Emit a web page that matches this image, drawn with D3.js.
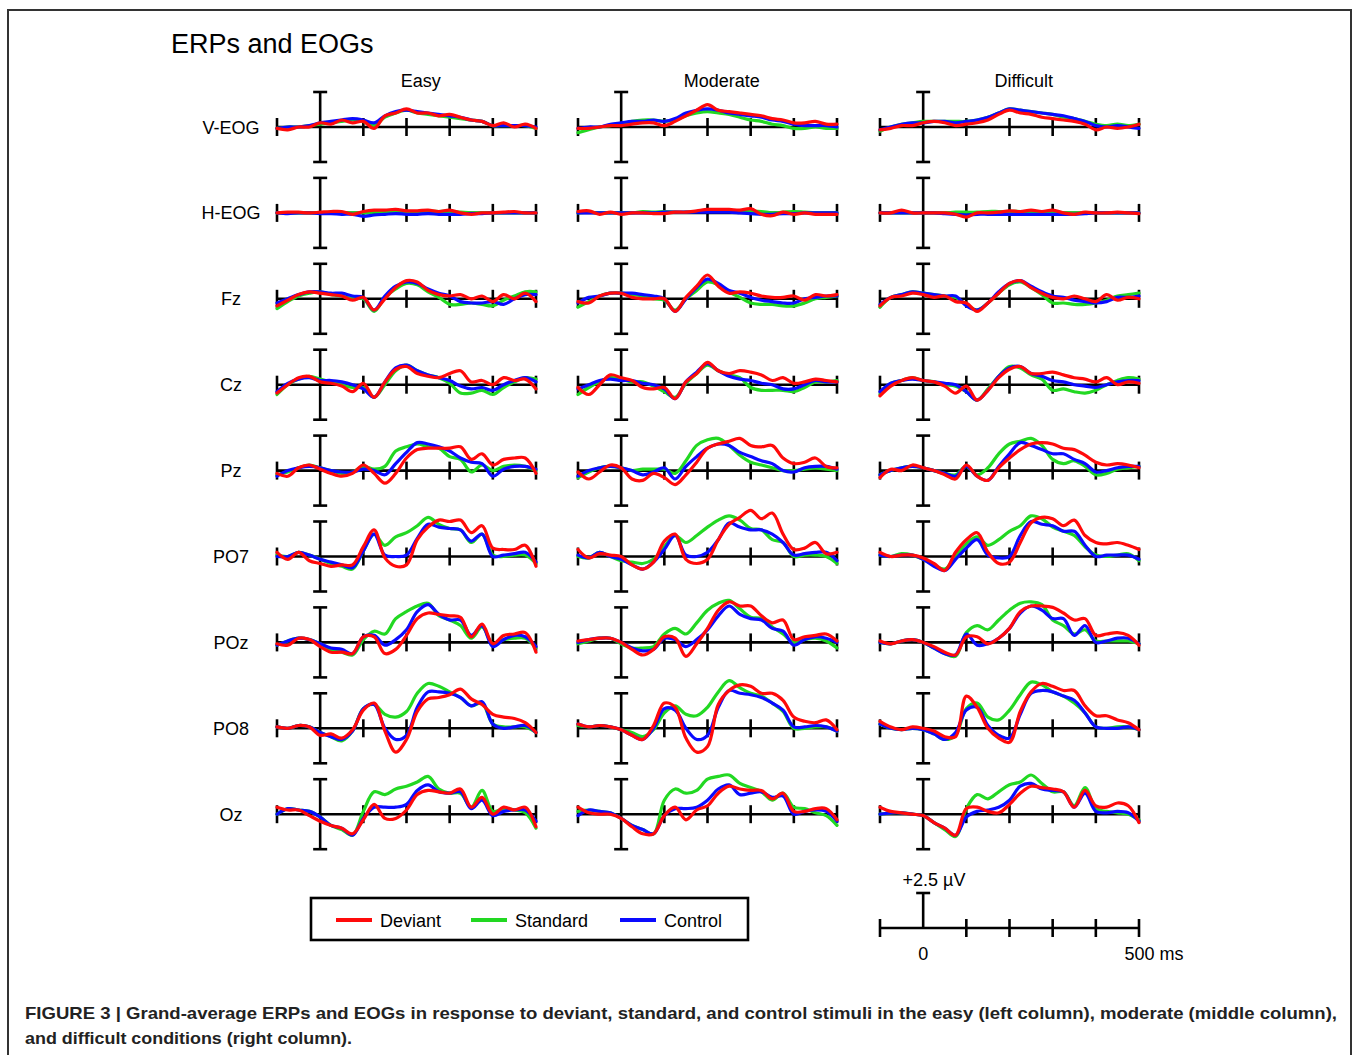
<!DOCTYPE html>
<html>
<head lang="en">
    <meta charset="UTF-8">
    <title>ERPs and EOGs</title>
    <style>
        body { margin: 0; background: #fff; }
        svg { font-family: "Liberation Sans", Arial, sans-serif; }
        .curve { fill: none; stroke-width: 3.2; stroke-linejoin: round; stroke-linecap: round; }
        .ax { stroke: #000; stroke-width: 2.6; fill: none; }
    </style>
</head>
<body>
<svg id="chart" width="1355" height="1055"></svg>
<script src="https://cdn.jsdelivr.net/npm/d3@7/dist/d3.min.js"></script>
<script>

    // sample times (ms) of every waveform
    let times = [-100,-75,-50,-25,0,25,50,75,100,125,150,175,200,225,250,275,300,325,350,375,400,425,450,475,500];
    let timeTicks = [-100,0,100,200,300,400,500];
    let channels = ["V-EOG","H-EOG","Fz","Cz","Pz","PO7","POz","PO8","Oz"];
    let conditions = ["Easy","Moderate","Difficult"];
    let seriesNames = ["Deviant","Standard","Control"];
    let seriesColors = ["#ff0a0a","#22d822","#0a0aff"];

    // µV, one row per channel (same order as channels)
    let deviantEasy = [
        [-0.1,-0.2,0.0,0.0,0.3,0.2,0.5,0.3,0.4,-0.1,0.8,1.0,1.3,1.0,1.0,0.8,0.9,0.7,0.5,0.4,0.1,0.3,0.0,0.2,-0.1],
        [0,0.05,0.05,0,0.05,0.1,0.1,-0.1,0.1,0.2,0.2,0.25,0.15,0.15,0.2,0.1,0.2,0,-0.1,0,0,0.05,0.1,0,0],
        [-0.5,-0.1,0.3,0.5,0.4,0.3,0.2,-0.1,0.1,-0.8,0.0,0.8,1.3,1.2,0.6,0.3,0.2,0.3,0.0,0.2,-0.2,0.3,0.0,0.4,-0.2],
        [-0.6,0.0,0.5,0.6,0.2,0.1,-0.1,-0.5,0.1,-0.9,0.2,1.1,1.3,0.8,0.6,0.5,0.8,1.0,0.2,0.3,0.0,0.5,0.3,0.4,-0.3],
        [-0.2,-0.4,0.2,0.4,0.1,-0.2,-0.4,-0.2,0.4,-0.2,-0.9,-0.2,0.9,1.5,1.6,1.6,1.6,1.7,0.8,1.2,0.4,0.8,0.9,0.9,-0.2],
        [0.3,-0.2,0.3,-0.3,-0.5,-0.7,-0.6,-0.6,0.7,1.9,-0.1,-0.7,-0.6,1.2,2.1,2.6,2.5,2.6,1.7,2.2,0.6,0.5,0.5,0.8,-0.7],
        [-0.1,-0.2,0.3,0.2,-0.3,-0.7,-0.7,-0.8,0.4,0.4,-0.8,-0.5,0.5,1.7,2.1,2.0,1.9,1.8,0.4,1.3,-0.1,0.5,0.6,0.7,-0.7],
        [0.1,0.0,0.2,0.1,-0.5,-0.4,-0.7,-0.1,1.3,1.8,-0.2,-1.7,-0.8,1.2,2.1,2.2,2.4,2.8,2.1,1.7,1.0,0.8,0.7,0.4,-0.3],
        [0.5,0.3,0.3,-0.1,-0.5,-0.8,-1.0,-1.4,-0.4,0.7,-0.3,-0.3,0.3,1.4,1.7,1.6,1.5,1.8,0.5,1.2,0.0,0.5,0.3,0.5,-0.9]
    ];
    let standardEasy = [
        [-0.1,0.0,0.0,0.1,0.2,0.3,0.4,0.5,0.4,0.1,0.7,1.0,1.2,1.0,0.9,0.8,0.7,0.6,0.5,0.4,0.1,0.1,0.1,0.1,-0.1],
        [0,0,0,0,0,0.05,0,0,0,0.05,0.05,0.05,0.05,0.05,0.1,0.1,0.1,0.05,0,0,0,0,0,0,0],
        [-0.7,-0.2,0.2,0.4,0.5,0.3,0.2,0.0,0.0,-0.9,0.1,0.7,1.1,1.0,0.5,0.1,-0.4,-0.4,-0.3,-0.4,-0.5,-0.1,0.2,0.5,0.5],
        [-0.7,0.0,0.4,0.6,0.4,0.2,0.0,-0.2,-0.2,-0.9,0.0,1.0,1.4,1.0,0.7,0.5,0.1,-0.6,-0.6,-0.4,-0.7,-0.2,0.2,0.5,0.4],
        [-0.3,-0.1,0.2,0.4,0.2,0.0,-0.2,-0.1,0.3,0.1,0.3,1.4,1.7,1.9,1.7,1.6,1.0,0.8,-0.1,0.4,0.0,0.3,0.4,0.3,0.0],
        [0.1,0.0,0.3,0.1,-0.2,-0.5,-0.7,-0.9,0.4,1.6,0.8,1.4,1.7,2.2,2.8,2.3,2.0,1.9,1.0,1.6,0.1,0.0,0.1,0.1,-0.5],
        [-0.2,0.1,0.3,0.2,-0.1,-0.5,-0.7,-0.9,0.2,0.8,0.6,1.7,2.2,2.6,2.8,1.9,1.6,1.2,0.3,1.1,-0.1,0.2,0.3,0.3,-0.4],
        [0.1,0.0,0.2,0.1,-0.3,-0.6,-0.9,-0.2,1.4,1.7,1.0,0.8,1.2,2.5,3.2,3.0,2.6,2.2,1.6,1.8,0.3,0.1,0.1,0.1,-0.3],
        [0.0,0.4,0.3,0.2,-0.2,-0.8,-1.1,-1.5,0.2,1.6,1.4,1.8,2.0,2.3,2.7,1.8,1.5,1.5,0.5,1.7,0.2,0.4,0.3,0.1,-1.0]
    ];
    let controlEasy = [
        [-0.1,0.0,0.0,0.1,0.3,0.4,0.5,0.6,0.5,0.3,0.8,1.1,1.2,1.1,1.0,0.9,0.8,0.7,0.5,0.4,0.1,0.1,0.1,0.1,0.0],
        [0,-0.05,0,0,-0.05,-0.05,-0.1,-0.1,-0.25,-0.15,-0.1,-0.05,-0.1,-0.1,-0.05,-0.1,-0.1,-0.1,-0.05,-0.05,0,0,0,0,0],
        [-0.3,0.0,0.3,0.5,0.5,0.4,0.4,0.2,0.1,-0.8,0.2,0.9,1.2,1.1,0.7,0.4,0.2,-0.2,-0.3,-0.3,-0.2,-0.4,0.0,0.3,0.3],
        [-0.5,0.1,0.4,0.5,0.3,0.3,0.2,0.0,-0.3,-0.9,0.2,1.2,1.4,1.0,0.7,0.5,0.3,-0.1,-0.3,-0.2,-0.4,0.0,0.3,0.5,0.2],
        [-0.4,0.0,0.2,0.3,0.2,0.0,-0.1,-0.1,0.1,0.0,-0.3,0.5,1.3,2.0,1.9,1.7,1.4,0.9,0.6,0.5,-0.4,0.1,0.3,0.3,0.1],
        [0.0,0.0,0.3,0.1,-0.2,-0.4,-0.6,-0.8,0.4,1.6,0.1,0.0,0.1,1.3,2.3,2.1,2.0,1.9,1.1,1.6,0.0,0.1,0.2,0.3,-0.4],
        [-0.2,0.1,0.3,0.2,-0.1,-0.4,-0.5,-0.8,0.4,0.5,-0.2,0.2,0.9,2.2,2.7,2.0,1.6,1.6,0.5,1.2,-0.3,0.2,0.5,0.4,-0.3],
        [0.1,0.0,0.2,0.1,-0.3,-0.6,-0.8,-0.2,1.4,1.7,0.0,-0.8,-0.5,1.5,2.6,2.6,2.5,2.2,1.6,1.9,0.3,0.0,0.1,0.2,-0.3],
        [0.0,0.4,0.3,0.2,-0.2,-0.8,-1.0,-1.5,-0.3,0.5,0.5,0.5,0.7,1.7,2.1,1.6,1.5,1.6,0.4,1.0,-0.1,0.2,0.3,0.3,-0.5]
    ];

    let deviantModerate = [
        [-0.1,-0.1,0.0,0.1,0.1,0.2,0.3,0.3,0.1,0.4,0.8,1.2,1.6,1.2,1.1,1.0,0.9,0.8,0.6,0.5,0.3,0.3,0.4,0.2,0.2],
        [0.1,0.15,-0.1,0.05,-0.1,0,0,-0.05,-0.05,0.05,0.05,0.15,0.25,0.25,0.25,0.2,0.3,-0.1,-0.2,0.05,-0.1,0,-0.1,-0.1,-0.1],
        [-0.2,-0.3,0.2,0.4,0.4,0.1,0.0,0.0,0.0,-0.9,0.1,0.9,1.7,0.9,0.4,0.5,0.4,0.2,0.1,0.1,0.2,-0.1,0.3,0.2,0.3],
        [-0.2,-0.7,0.0,0.7,0.5,0.3,-0.2,-0.3,-0.2,-1.0,0.2,0.8,1.6,1.0,0.8,1.0,0.9,0.7,0.3,0.5,0.1,0.2,0.4,0.3,0.2],
        [-0.1,-0.6,-0.1,0.4,0.2,-0.6,-0.7,-0.2,-0.5,-1.0,-0.3,0.6,1.6,1.9,2.1,2.3,1.8,1.7,1.8,0.9,0.5,0.6,0.9,0.3,0.2],
        [0.5,-0.1,0.2,0.1,0.0,-0.6,-0.9,-0.4,1.1,1.6,-0.2,-0.5,-0.2,1.2,2.3,2.8,3.3,2.7,3.1,1.6,0.5,0.6,1.0,0.2,0.3],
        [0.1,0.2,0.3,0.3,0.0,-0.5,-0.9,-0.5,0.4,0.3,-1.0,-0.1,1.0,2.3,2.9,2.6,2.6,1.9,1.4,1.6,0.2,0.4,0.5,0.6,0.1],
        [0.3,0.1,0.2,0.1,-0.1,-0.5,-0.8,0.2,1.8,1.5,-0.7,-1.7,-1.3,1.7,2.7,3.1,3.0,2.5,2.5,2.0,0.8,0.5,0.4,0.6,-0.1],
        [0.5,0.1,0.0,0.0,-0.3,-0.9,-1.4,-1.4,-0.1,0.5,-0.4,0.3,0.6,1.5,2.0,1.8,1.7,1.7,1.1,1.5,0.2,0.2,0.4,0.4,-0.4]
    ];
    let standardModerate = [
        [-0.4,-0.2,0.0,0.1,0.2,0.4,0.5,0.5,0.4,0.5,0.8,1.0,1.1,1.0,0.9,0.7,0.5,0.4,0.2,0.1,-0.1,-0.1,0.0,-0.1,-0.1],
        [0,0.05,0,0,0,0,0.1,0.05,0.1,0.05,0.05,0.1,0.15,0.15,0.1,0.1,0.1,0.1,0,0.05,0.1,0.05,0,0,0],
        [-0.6,-0.2,0.2,0.4,0.4,0.3,0.2,0.0,-0.1,-0.8,0.0,0.6,1.2,1.0,0.5,0.1,-0.3,-0.4,-0.4,-0.5,-0.5,-0.3,0.0,0.1,0.2],
        [-0.7,-0.2,0.2,0.5,0.4,0.2,0.2,-0.1,-0.5,-0.9,0.1,0.8,1.4,1.0,0.7,0.5,-0.2,-0.4,-0.4,-0.4,-0.5,-0.2,0.2,0.2,0.3],
        [-0.5,-0.1,0.2,0.3,0.2,0.0,0.1,0.1,0.1,-0.2,0.7,1.8,2.2,2.3,1.8,1.1,0.6,0.4,0.2,0.0,0.0,0.1,0.2,0.1,0.0],
        [0.0,-0.1,0.3,0.0,-0.3,-0.4,-0.5,-0.2,0.7,1.5,1.0,1.5,2.1,2.6,2.9,2.6,2.0,1.9,1.2,1.0,0.0,0.1,0.1,0.0,-0.5],
        [-0.1,0.1,0.3,0.3,-0.1,-0.4,-0.4,-0.3,0.6,1.0,0.6,1.4,2.3,2.8,3.0,2.4,1.8,1.7,1.1,0.6,0.0,0.2,0.3,0.1,-0.4],
        [0.2,0.1,0.2,0.1,-0.1,-0.3,-0.6,-0.1,1.1,1.6,1.0,0.9,1.5,2.6,3.4,2.9,2.5,2.3,1.8,1.2,0.0,0.0,0.1,0.1,-0.2],
        [0.2,0.3,0.2,0.1,-0.3,-0.8,-1.1,-1.4,1.0,1.8,1.5,1.7,2.5,2.7,2.8,2.2,1.9,1.6,1.0,1.5,0.5,0.4,0.1,-0.1,-0.8]
    ];
    let controlModerate = [
        [-0.1,0.0,0.0,0.2,0.3,0.4,0.4,0.5,0.4,0.6,1.0,1.2,1.3,1.2,1.0,0.9,0.8,0.7,0.5,0.4,0.2,0.1,0.1,0.1,0.0],
        [0,0,0,0,0,0,0,0,0.05,0.05,0.05,0.05,0.05,0.05,0.05,0,-0.05,-0.1,-0.1,-0.05,-0.05,0,0,0,0],
        [-0.3,0.1,0.2,0.4,0.4,0.4,0.3,0.2,0.0,-0.9,0.0,0.8,1.4,1.1,0.6,0.4,0.1,-0.1,-0.2,-0.3,-0.3,0.0,0.1,0.2,0.2],
        [-0.3,0.0,0.3,0.4,0.3,0.3,0.1,0.0,-0.3,-1.0,0.2,0.9,1.5,1.0,0.6,0.4,0.3,0.1,0.0,-0.3,-0.3,0.0,0.3,0.2,0.2],
        [-0.4,0.0,0.2,0.3,0.2,0.0,-0.3,-0.1,0.2,-0.6,0.3,1.0,1.6,1.9,1.8,1.3,1.0,0.7,0.5,0.0,-0.1,0.2,0.3,0.3,0.1],
        [0.1,-0.1,0.3,0.0,-0.2,-0.6,-0.9,-0.4,0.5,1.5,0.1,0.0,0.3,1.2,2.4,2.1,1.9,1.9,1.6,1.0,0.1,0.2,0.3,0.3,-0.3],
        [0.0,0.2,0.3,0.3,0.0,-0.4,-0.6,-0.5,0.3,0.2,-0.3,0.2,0.9,1.9,2.6,2.0,1.7,1.6,1.0,0.8,-0.2,0.2,0.4,0.3,0.0],
        [0.3,0.1,0.2,0.1,-0.1,-0.5,-0.8,0.0,1.4,1.3,0.0,-0.8,-0.5,1.5,2.7,2.5,2.4,2.2,1.8,1.3,0.1,0.1,0.2,0.1,-0.2],
        [-0.1,0.3,0.2,0.1,-0.3,-0.8,-1.1,-1.4,-0.1,0.4,0.4,0.5,1.0,1.8,2.1,1.4,1.5,1.6,1.2,1.3,0.0,0.2,0.3,0.2,-0.5]
    ];

    let deviantDifficult = [
        [-0.2,-0.1,0.1,0.1,0.3,0.4,0.3,0.1,0.2,0.3,0.5,0.9,1.2,1.0,0.9,0.7,0.6,0.5,0.4,0.2,-0.2,0.0,-0.1,0.0,0.2],
        [0,0,0.2,0,0,0,0,-0.1,-0.3,0,0,0.05,0.15,0.1,0.2,0.1,0.2,0,-0.1,0.05,0,0,0.05,0,-0.05],
        [-0.5,0.1,0.2,0.4,0.3,0.1,0.2,-0.2,-0.3,-0.9,-0.3,0.4,1.1,1.3,0.8,0.4,0.1,0.0,0.2,0.0,-0.2,0.3,-0.1,0.1,0.0],
        [-0.8,-0.1,0.3,0.5,0.3,0.2,-0.1,-0.6,-0.1,-1.1,-0.4,0.5,1.1,1.3,0.8,0.8,0.9,0.7,0.5,0.4,0.2,0.5,0.0,0.2,0.1],
        [-0.5,0.1,0.0,0.4,0.2,0.0,-0.3,-0.6,0.4,-0.4,-0.7,0.2,0.9,1.5,1.9,2.0,1.9,1.6,1.5,1.1,0.6,0.4,0.5,0.4,0.2],
        [0.3,0.0,0.1,0.1,-0.1,-0.5,-1.0,0.3,1.2,1.7,0.3,-0.5,-0.4,1.0,2.4,2.8,2.7,2.2,2.6,1.5,1.0,0.9,1.0,0.8,0.5],
        [0.1,-0.1,0.1,0.2,0.0,-0.3,-0.7,-0.9,0.4,0.4,-0.1,0.3,1.0,2.2,2.6,2.6,2.5,2.1,1.6,1.7,0.5,0.6,0.7,0.5,-0.2],
        [0.5,0.1,-0.1,0.1,0.0,-0.2,-0.6,-0.6,2.3,1.5,0.0,-0.7,-1.0,1.2,2.6,3.2,3.0,2.7,2.7,1.6,0.9,0.9,0.6,0.4,-0.1],
        [0.5,0.2,0.1,0.0,-0.1,-0.6,-1.0,-1.5,0.4,0.5,0.2,0.1,0.7,1.5,2.0,1.9,1.8,1.6,0.5,1.7,0.6,0.5,0.8,0.6,-0.6]
    ];
    let standardDifficult = [
        [-0.3,0.0,0.2,0.3,0.4,0.4,0.4,0.4,0.4,0.5,0.7,1.0,1.3,1.2,1.1,1.0,0.9,0.7,0.6,0.4,0.2,0.1,0.2,0.1,0.2],
        [0,0,0,0,0,0,0,0.05,0.05,0.05,0.1,0.1,0.1,0.1,0.05,0.05,0.05,0,0,0,0,0,0,0,0],
        [-0.6,0.1,0.3,0.5,0.4,0.3,0.2,0.1,-0.4,-0.8,-0.3,0.4,1.0,1.2,0.8,0.3,-0.3,-0.3,-0.4,-0.4,-0.3,-0.1,0.2,0.3,0.4],
        [-0.7,0.1,0.3,0.5,0.3,0.2,0.0,-0.1,-0.5,-1.1,-0.3,0.6,1.3,1.2,0.7,0.4,-0.4,-0.3,-0.5,-0.6,-0.4,0.0,0.3,0.5,0.4],
        [-0.3,0.0,0.2,0.3,0.2,0.0,-0.2,-0.3,0.3,-0.3,0.2,1.2,1.9,2.1,2.3,1.8,0.8,0.5,0.7,0.3,-0.3,-0.2,0.1,0.2,0.3],
        [0.1,0.0,0.2,0.1,-0.2,-0.6,-0.9,0.0,0.9,1.4,0.8,1.2,1.8,2.2,2.9,2.7,2.1,1.8,1.5,0.7,0.1,0.0,0.1,0.2,-0.3],
        [0.0,-0.1,0.1,0.2,0.0,-0.4,-0.8,-1.0,0.7,1.2,0.9,1.6,2.3,2.8,2.9,2.7,1.6,1.2,0.6,0.9,0.1,0.1,0.1,0.1,-0.1],
        [0.3,0.0,-0.1,0.0,-0.1,-0.4,-0.8,-0.5,1.4,1.8,0.8,0.6,1.3,2.4,3.3,3.1,2.6,2.3,1.8,1.1,0.1,0.0,0.1,0.1,-0.1],
        [0.0,0.1,0.1,0.0,-0.1,-0.6,-1.1,-1.6,0.4,1.4,1.1,1.6,2.1,2.3,2.8,2.2,1.6,1.6,0.6,1.9,0.4,0.2,0.1,0.0,-0.4]
    ];
    let controlDifficult = [
        [-0.2,0.0,0.2,0.3,0.3,0.4,0.4,0.3,0.4,0.5,0.7,1.0,1.3,1.2,1.1,1.0,0.9,0.8,0.6,0.4,0.1,0.0,0.1,0.0,-0.1],
        [0,0,0,0,0,0,-0.05,-0.1,-0.15,-0.1,-0.1,-0.1,-0.1,-0.1,-0.1,-0.1,-0.1,-0.1,-0.1,-0.05,0,0,0,0,0],
        [-0.4,0.1,0.3,0.5,0.4,0.3,0.2,0.2,-0.5,-0.8,-0.3,0.5,1.1,1.3,0.9,0.5,0.2,0.1,-0.1,-0.2,-0.3,-0.2,0.1,0.1,0.2],
        [-0.5,0.1,0.3,0.4,0.3,0.2,0.1,0.0,-0.5,-1.1,-0.4,0.6,1.2,1.3,0.8,0.6,0.3,0.2,0.0,-0.1,-0.2,0.0,0.2,0.3,0.3],
        [-0.3,0.0,0.2,0.3,0.2,0.0,-0.2,-0.4,0.3,-0.4,-0.7,0.3,1.2,2.0,1.8,1.5,1.2,1.2,0.8,0.5,-0.1,0.0,0.2,0.3,0.3],
        [0.1,0.0,0.1,0.1,-0.2,-0.7,-1.0,-0.2,0.6,1.2,0.1,-0.1,0.0,1.5,2.5,2.3,2.2,1.8,1.8,0.8,0.0,0.1,0.1,0.1,-0.2],
        [0.0,-0.1,0.1,0.2,0.0,-0.4,-0.8,-0.9,0.6,-0.2,-0.1,0.3,1.0,2.1,2.6,2.3,1.7,1.7,0.5,1.2,0.0,0.1,0.3,0.3,-0.1],
        [0.3,0.0,-0.1,0.0,-0.1,-0.4,-0.8,-0.3,1.3,1.5,0.2,-0.5,-0.7,1.0,2.5,2.7,2.6,2.3,2.0,1.1,0.1,0.0,0.0,0.1,-0.1],
        [0.0,0.1,0.1,0.0,-0.1,-0.6,-1.0,-1.5,-0.2,0.2,0.3,0.5,1.0,2.0,2.2,1.8,1.7,1.6,0.5,1.5,0.2,0.1,0.2,0.1,-0.5]
    ];

    // [condition][series]
    let panels = [
        [deviantEasy, standardEasy, controlEasy],
        [deviantModerate, standardModerate, controlModerate],
        [deviantDifficult, standardDifficult, controlDifficult]
    ];

    let svg = d3.select('#chart');
    let colLeft = [277, 578, 880];
    let panelW = 259;
    let rowBase0 = 127, rowStep = 85.9, halfH = 35;
    let drawOrder = [1, 2, 0];   // standard, control, deviant on top

    // frame
    svg.append('path')
        .attr('d', 'M8,1060V10H1351V1060')
        .attr('fill', 'none')
        .attr('stroke', '#333')
        .attr('stroke-width', 2);

    svg.append('text')
        .attr('x', 171).attr('y', 53)
        .attr('font-size', 27)
        .text('ERPs and EOGs');

    conditions.forEach((cond, c) => {
        let x = d3.scaleLinear().domain([-100, 500]).range([colLeft[c], colLeft[c] + panelW]);

        svg.append('text')
            .attr('x', x(233)).attr('y', 87)
            .attr('text-anchor', 'middle')
            .attr('font-size', 18)
            .text(cond);

        channels.forEach((ch, r) => {
            let base = rowBase0 + rowStep * r;
            let y = d3.scaleLinear().domain([-2.5, 2.5]).range([base + halfH, base - halfH]);
            let g = svg.append('g');

            if (c === 0) {
                svg.append('text')
                    .attr('x', 231).attr('y', base + 6.5)
                    .attr('text-anchor', 'middle')
                    .attr('font-size', 18)
                    .text(ch);
            }

            // time axis with ticks on both sides
            g.append('line').attr('class', 'ax')
                .attr('x1', x(-100)).attr('x2', x(500))
                .attr('y1', y(0)).attr('y2', y(0));
            g.selectAll('.tk').data(timeTicks.filter(t => t !== 0)).enter()
                .append('line').attr('class', 'ax')
                .attr('x1', d => x(d)).attr('x2', d => x(d))
                .attr('y1', y(0) - 9).attr('y2', y(0) + 9);

            // amplitude axis at 0 ms
            g.append('line').attr('class', 'ax')
                .attr('x1', x(0)).attr('x2', x(0))
                .attr('y1', y(-2.5)).attr('y2', y(2.5));
            [-2.5, 2.5].forEach(v => {
                g.append('line').attr('class', 'ax')
                    .attr('x1', x(0) - 7).attr('x2', x(0) + 7)
                    .attr('y1', y(v)).attr('y2', y(v));
            });

            let line = d3.line()
                .x((d, i) => x(times[i]))
                .y(d => y(d))
                .curve(d3.curveCatmullRom.alpha(0.5));

            drawOrder.forEach(s => {
                g.append('path')
                    .datum(panels[c][s][r])
                    .attr('class', 'curve')
                    .attr('stroke', seriesColors[s])
                    .attr('d', line);
            });
        });
    });

    // legend
    let legend = svg.append('g');
    legend.append('rect')
        .attr('x', 311).attr('y', 898).attr('width', 437).attr('height', 42)
        .attr('fill', 'none').attr('stroke', '#000').attr('stroke-width', 2.6);
    let legX = [336, 471, 620];
    seriesNames.forEach((name, s) => {
        legend.append('line')
            .attr('x1', legX[s]).attr('x2', legX[s] + 36)
            .attr('y1', 920).attr('y2', 920)
            .attr('stroke', seriesColors[s]).attr('stroke-width', 4);
        legend.append('text')
            .attr('x', legX[s] + 44).attr('y', 926.5)
            .attr('font-size', 18)
            .text(name);
    });

    // scale bar
    let sx = d3.scaleLinear().domain([-100, 500]).range([colLeft[2], colLeft[2] + panelW]);
    let sb = svg.append('g');
    let sBase = 928;
    sb.append('line').attr('class', 'ax')
        .attr('x1', sx(-100)).attr('x2', sx(500)).attr('y1', sBase).attr('y2', sBase);
    sb.selectAll('.tk').data(timeTicks.filter(t => t !== 0)).enter()
        .append('line').attr('class', 'ax')
        .attr('x1', d => sx(d)).attr('x2', d => sx(d))
        .attr('y1', sBase - 9).attr('y2', sBase + 9);
    sb.append('line').attr('class', 'ax')
        .attr('x1', sx(0)).attr('x2', sx(0)).attr('y1', sBase).attr('y2', sBase - halfH);
    sb.append('line').attr('class', 'ax')
        .attr('x1', sx(0) - 7).attr('x2', sx(0) + 7).attr('y1', sBase - halfH).attr('y2', sBase - halfH);
    sb.append('text').attr('x', sx(25)).attr('y', 886).attr('text-anchor', 'middle')
        .attr('font-size', 18).text('+2.5 \u00b5V');
    sb.append('text').attr('x', sx(0)).attr('y', 960).attr('text-anchor', 'middle')
        .attr('font-size', 18).text('0');
    sb.append('text').attr('x', sx(500) + 15).attr('y', 960).attr('text-anchor', 'middle')
        .attr('font-size', 18).text('500 ms');

    // caption
    let cap1 = 'FIGURE 3 | Grand-average ERPs and EOGs in response to deviant, standard, and control stimuli in the easy (left column), moderate (middle column),';
    let cap2 = 'and difficult conditions (right column).';
    svg.append('text').attr('x', 25).attr('y', 1019)
        .attr('font-size', 17).attr('font-weight', 'bold').attr('fill', '#222')
        .attr('textLength', 1312).attr('lengthAdjust', 'spacingAndGlyphs')
        .text(cap1);
    svg.append('text').attr('x', 25).attr('y', 1044)
        .attr('font-size', 17).attr('font-weight', 'bold').attr('fill', '#222')
        .attr('textLength', 327).attr('lengthAdjust', 'spacingAndGlyphs')
        .text(cap2);

</script>
</body>
</html>
